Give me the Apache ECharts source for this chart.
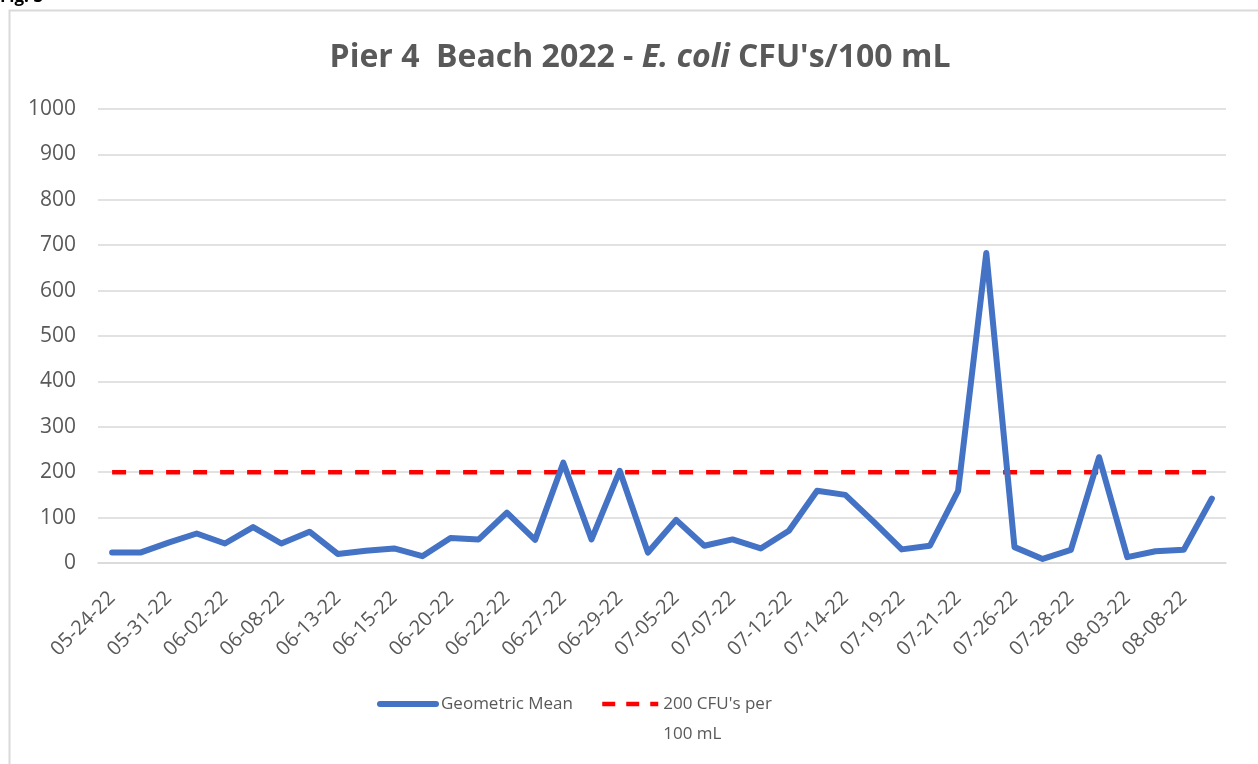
<!DOCTYPE html>
<html>
<head>
<meta charset="utf-8">
<script src="https://cdn.jsdelivr.net/npm/echarts@6/dist/echarts.min.js"></script>
<style>
  html, body { margin: 0; padding: 0; background: #fff; }
  #chart { width: 1258px; height: 764px; }
</style>
</head>
<body>
<div id="chart"></div>
<script>
// sample dates (every other one is shown on the axis)
const dates = [
  '05-24-22', '05-26-22', '05-31-22', '06-01-22', '06-02-22', '06-07-22',
  '06-08-22', '06-09-22', '06-13-22', '06-14-22', '06-15-22', '06-16-22',
  '06-20-22', '06-21-22', '06-22-22', '06-23-22', '06-27-22', '06-28-22',
  '06-29-22', '06-30-22', '07-05-22', '07-06-22', '07-07-22', '07-11-22',
  '07-12-22', '07-13-22', '07-14-22', '07-18-22', '07-19-22', '07-20-22',
  '07-21-22', '07-25-22', '07-26-22', '07-27-22', '07-28-22', '08-02-22',
  '08-03-22', '08-04-22', '08-08-22', '08-10-22'
];
// geometric mean, CFU's / 100 mL
const geoMean = [
  23, 23, 45, 65, 43, 79, 43, 69, 20, 27,
  32, 15, 55, 52, 111, 51, 221, 52, 203, 23,
  95, 38, 52, 32, 71, 159, 150, 91, 30, 38,
  159, 683, 35, 9, 29, 233, 13, 26, 29, 142
];
const limitValue = 200;
const limitLine = dates.map(() => limitValue);
const yTicks = { min: 0, max: 1000, step: 100 };

const geoName = 'Geometric Mean';
const limitName = "200 CFU's per\n100 mL";

const FONT = 'Open Sans';
const GREY = '#595959';
const BLUE = '#4472C4';
const RED = '#FF0000';

const chart = echarts.init(document.getElementById('chart'));
chart.setOption({
  animation: false,
  backgroundColor: '#fff',
  textStyle: { fontFamily: FONT },
  graphic: [
    {
      type: 'rect',
      shape: { x: 9.5, y: 10.5, width: 1300, height: 800 },
      style: { fill: 'none', stroke: '#d9d9d9', lineWidth: 2 },
      silent: true
    },
    {
      type: 'text',
      left: 0, top: -11,
      style: { text: 'Fig. 3', font: 'bold 17px ' + FONT, fill: '#000' },
      silent: true
    }
  ],
  title: {
    left: 635,
    top: 37,
    textAlign: 'center',
    text: "{a|Pier 4  Beach 2022 - }{b|E. coli}{a| CFU's/100 mL}",
    textStyle: {
      rich: {
        a: { fontFamily: FONT, fontSize: 32, fontWeight: 'bold', color: GREY },
        b: { fontFamily: FONT, fontSize: 32, fontWeight: 'bold', fontStyle: 'italic', color: GREY }
      }
    }
  },
  legend: {
    left: 377,
    top: 659,
    padding: 0,
    itemWidth: 56,
    itemHeight: 14,
    itemGap: 27,
    itemStyle: { opacity: 0 },
    textStyle: { fontFamily: FONT, fontSize: 17, color: GREY, lineHeight: 30 },
    // first line of the wrapped name sits level with its icon
    formatter: name => (name === limitName ? '\n' + name : name),
    data: [
      { name: geoName, lineStyle: { width: 6, cap: 'round' } },
      { name: limitName, lineStyle: { width: 4.5, type: [13, 11] } }
    ]
  },
  grid: { left: 98, right: 32, top: 109, bottom: 201 },
  xAxis: {
    type: 'category',
    data: dates,
    boundaryGap: true,
    axisLine: { lineStyle: { color: '#d9d9d9', width: 1.5 } },
    axisTick: { show: false },
    axisLabel: {
      interval: 1,
      rotate: 45,
      margin: 32,
      fontFamily: FONT,
      fontSize: 20,
      color: GREY
    }
  },
  yAxis: {
    type: 'value',
    min: yTicks.min,
    max: yTicks.max,
    interval: yTicks.step,
    axisLine: { show: false },
    axisTick: { show: false },
    splitLine: { lineStyle: { color: '#d9d9d9', width: 1.5 } },
    axisLabel: {
      margin: 22,
      fontFamily: FONT,
      fontSize: 21,
      color: GREY,
      formatter: v => String(v)
    }
  },
  series: [
    {
      name: geoName,
      type: 'line',
      data: geoMean,
      showSymbol: false,
      symbol: 'none',
      lineStyle: { color: BLUE, width: 6, cap: 'round', join: 'round' },
      itemStyle: { color: BLUE },
      z: 3
    },
    {
      name: limitName,
      type: 'line',
      data: limitLine,
      showSymbol: false,
      symbol: 'none',
      lineStyle: { color: RED, width: 4.5, type: [14, 13] },
      itemStyle: { color: RED },
      z: 2
    }
  ]
});
</script>
</body>
</html>
